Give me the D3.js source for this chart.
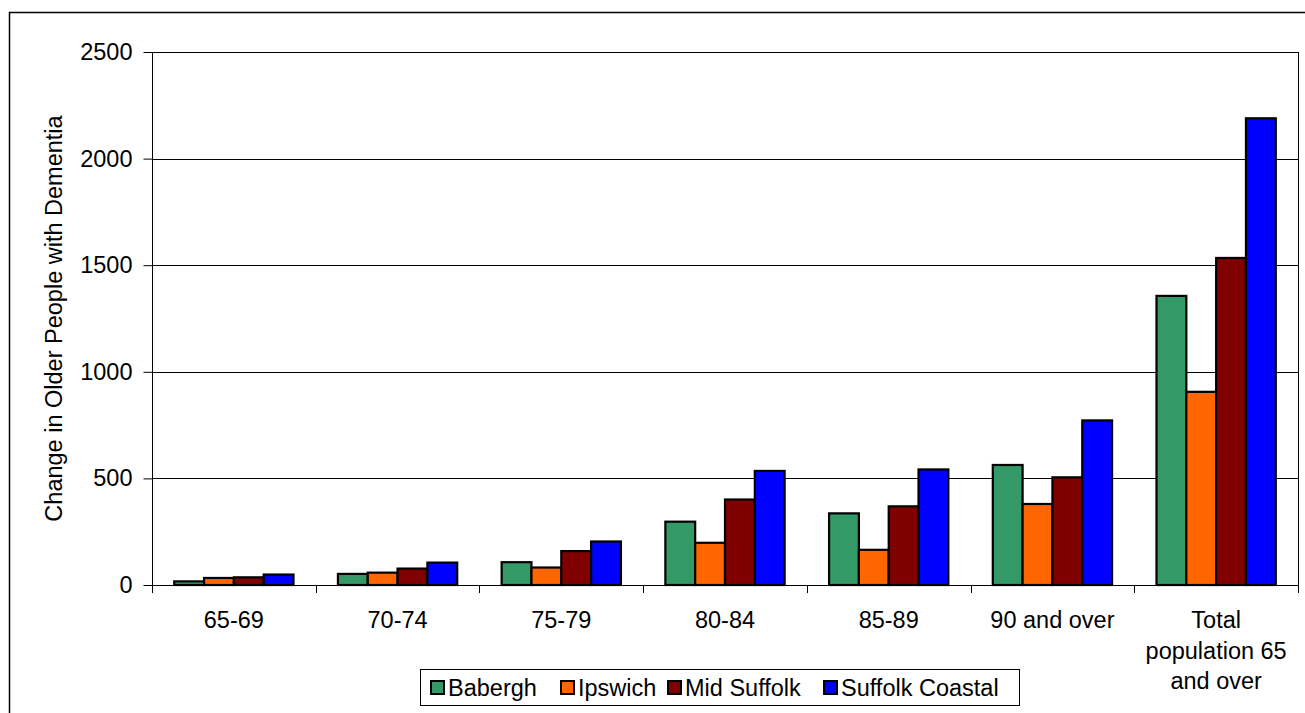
<!DOCTYPE html>
<html>
<head>
<meta charset="utf-8">
<script src="https://cdn.jsdelivr.net/npm/d3@7"></script>
<style>
  html, body { margin: 0; padding: 0; background: #fff; }
  svg { display: block; }
  text { font-family: "Liberation Sans", Arial, sans-serif; fill: #000; }
</style>
</head>
<body>
<svg id="chart" width="1305" height="713"></svg>
<script>
const categories = ["65-69", "70-74", "75-79", "80-84", "85-89", "90 and over", "Total\npopulation 65\nand over"];
const seriesNames = ["Babergh", "Ipswich", "Mid Suffolk", "Suffolk Coastal"];
const babergh = [17, 52, 107, 297, 336, 563, 1356];
const ipswich = [33, 58, 82, 198, 165, 380, 906];
const midSuffolk = [36, 77, 159, 401, 369, 505, 1534];
const suffolkCoastal = [49, 105, 204, 535, 542, 772, 2189];
const yTicks = [0, 500, 1000, 1500, 2000, 2500];
const yTitle = "Change in Older People with Dementia";
const colors = ["#339966", "#FF6600", "#800000", "#0000FF"];

const seriesValues = [babergh, ipswich, midSuffolk, suffolkCoastal];

const svg = d3.select("#chart");
const fontSize = 23.5;

const pLeft = 152, pRight = 1298, pTop = 52, pBottom = 585;

const x = d3.scaleBand().domain(categories).range([pLeft, pRight]).padding(0);
const xs = d3.scaleBand().domain(seriesNames).range([0, x.bandwidth()]).paddingInner(0).paddingOuter(0.745);
const y = d3.scaleLinear().domain([0, 2500]).range([pBottom, pTop]);

// outer frame
svg.append("rect")
  .attr("x", 9.5).attr("y", 12.5)
  .attr("width", 1400).attr("height", 800)
  .attr("fill", "none").attr("stroke", "#000").attr("stroke-width", 1.5);

// gridlines
svg.append("g")
  .selectAll("line")
  .data(yTicks.filter(d => d > 0))
  .join("line")
  .attr("x1", pLeft).attr("x2", pRight)
  .attr("y1", d => Math.round(y(d)) + 0.5).attr("y2", d => Math.round(y(d)) + 0.5)
  .attr("stroke", "#000").attr("stroke-width", 1);

// plot area right border
svg.append("line")
  .attr("x1", pRight + 0.5).attr("x2", pRight + 0.5)
  .attr("y1", pTop).attr("y2", pBottom)
  .attr("stroke", "#000").attr("stroke-width", 1);

// bars
const groups = svg.append("g")
  .selectAll("g")
  .data(seriesNames)
  .join("g")
  .attr("fill", (d, i) => colors[i]);

groups.selectAll("rect")
  .data((s, si) => categories.map((c, ci) => ({ c, s, v: seriesValues[si][ci] })))
  .join("rect")
  .attr("x", d => x(d.c) + xs(d.s))
  .attr("width", xs.bandwidth())
  .attr("y", d => y(d.v))
  .attr("height", d => y(0) - y(d.v))
  .attr("stroke", "#000")
  .attr("stroke-width", 2.2);

// y axis
const yAxis = d3.axisLeft(y).tickValues(yTicks).tickSize(9).tickPadding(11).tickFormat(d3.format("d"));
const gy = svg.append("g").attr("transform", `translate(${pLeft + 0.5},0)`).call(yAxis);
gy.select(".domain").attr("stroke", "#000").attr("d", `M0,${pTop}V${pBottom}`);
gy.selectAll(".tick line").attr("stroke", "#000");
gy.selectAll(".tick text").attr("font-size", fontSize).attr("font-family", "Liberation Sans, Arial, sans-serif").attr("fill", "#000");

// x axis with ticks at boundaries
svg.append("line")
  .attr("x1", pLeft).attr("x2", pRight + 1)
  .attr("y1", pBottom + 0.5).attr("y2", pBottom + 0.5)
  .attr("stroke", "#000").attr("stroke-width", 1);

const boundaries = categories.map(c => x(c)).concat([pRight]);
svg.append("g")
  .selectAll("line")
  .data(boundaries)
  .join("line")
  .attr("x1", d => Math.round(d) + 0.5).attr("x2", d => Math.round(d) + 0.5)
  .attr("y1", pBottom).attr("y2", pBottom + 8)
  .attr("stroke", "#000").attr("stroke-width", 1);

// x labels
const xl = svg.append("g")
  .selectAll("text")
  .data(categories)
  .join("text")
  .attr("text-anchor", "middle")
  .attr("font-size", fontSize)
  .attr("x", d => x(d) + x.bandwidth() / 2)
  .attr("y", 628);
xl.each(function(d) {
  const lines = d.split("\n");
  d3.select(this).selectAll("tspan")
    .data(lines)
    .join("tspan")
    .attr("x", x(d) + x.bandwidth() / 2)
    .attr("dy", (l, i) => i === 0 ? 0 : 30.5)
    .text(l => l);
});

// y title
svg.append("text")
  .attr("transform", `translate(62,${(pTop + pBottom) / 2}) rotate(-90)`)
  .attr("text-anchor", "middle")
  .attr("font-size", fontSize)
  .text(yTitle);

// legend
const legend = svg.append("g");
legend.append("rect")
  .attr("x", 420.5).attr("y", 669.5)
  .attr("width", 599).attr("height", 36)
  .attr("fill", "#fff").attr("stroke", "#000").attr("stroke-width", 1);

const legendX = [431, 561, 668, 824];
const li = legend.selectAll("g.item")
  .data(seriesNames)
  .join("g")
  .attr("class", "item")
  .attr("transform", (d, i) => `translate(${legendX[i]},681)`);
li.append("rect")
  .attr("x", 0).attr("y", 0)
  .attr("width", 13).attr("height", 13)
  .attr("fill", (d, i) => colors[i])
  .attr("stroke", "#000").attr("stroke-width", 2);
li.append("text")
  .attr("x", 17).attr("y", 15)
  .attr("font-size", fontSize)
  .text(d => d);
</script>
</body>
</html>
